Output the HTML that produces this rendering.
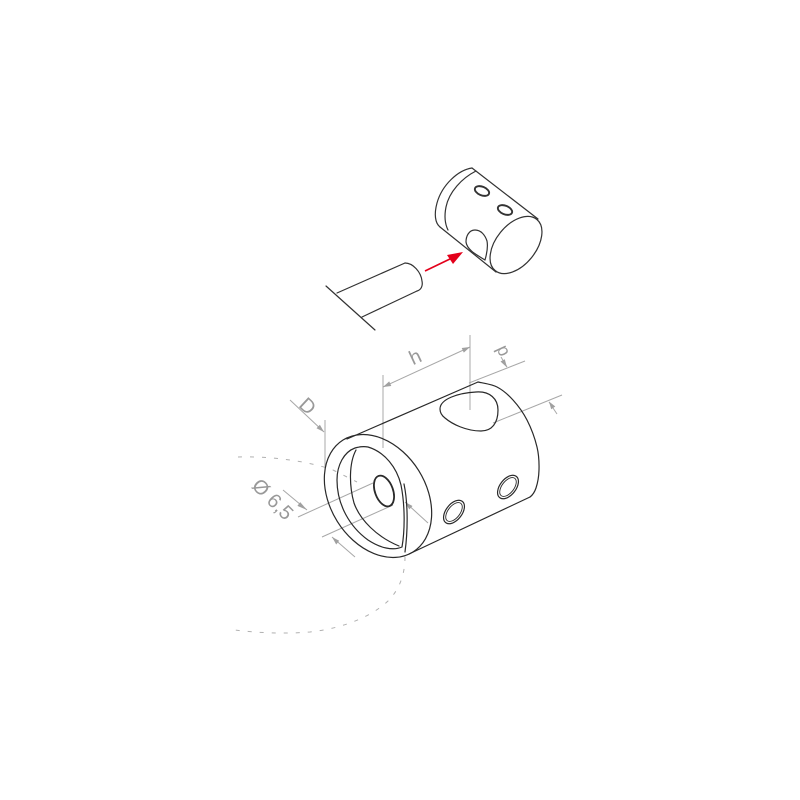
<!DOCTYPE html>
<html>
<head>
<meta charset="utf-8">
<style>
html,body{margin:0;padding:0;background:#fff;}
svg{display:block;}
</style>
</head>
<body>
<svg width="800" height="800" viewBox="0 0 800 800" xmlns="http://www.w3.org/2000/svg">
<rect width="800" height="800" fill="#fff"/>

<!-- ===== Top exploded view ===== -->
<g fill="none" stroke="#333" stroke-width="1.2" stroke-linecap="round" stroke-linejoin="round">
  <!-- wall line -->
  <line x1="326" y1="286" x2="375" y2="330"/>
  <!-- rod -->
  <line x1="337" y1="293" x2="405" y2="263"/>
  <line x1="362" y1="317" x2="417" y2="291"/>
  <path d="M405,263 C413,263 421,272 422,281 C423,286 421,290 417,291"/>

  <!-- small part -->
  <path d="M472,168 C458,170 442,185 437,203 C434,214 435,223 440,227"/>
  <path d="M476,171 C462,178 449,192 446,207 C444,217 445,224 448,230"/>
  <line x1="472" y1="168" x2="538" y2="219"/>
  <line x1="440" y1="227" x2="496" y2="272"/>
  <ellipse cx="0" cy="0" rx="33" ry="20" transform="translate(516,245) rotate(-51)"/>
  <ellipse cx="0" cy="0" rx="7.5" ry="4.3" transform="translate(482,191) rotate(22)" stroke-width="1.9"/>
  <ellipse cx="0" cy="0" rx="7.5" ry="4.3" transform="translate(505,210) rotate(22)" stroke-width="1.9"/>
  <path d="M475,230 C469,230 466,236 466,242 C467,250 477,255 485,260 C487,253 488,246 487,241 C485,235 481,230 475,230 Z"/>
</g>

<!-- red arrow -->
<line x1="425" y1="271" x2="452" y2="258" stroke="#e3001b" stroke-width="1.6"/>
<polygon points="463,252 447,255 453,264" fill="#e3001b"/>

<!-- ===== Main view: dimension lines (gray) ===== -->
<g fill="none" stroke="#a8a8a8" stroke-width="1">
  <!-- h -->
  <line x1="383" y1="375" x2="383" y2="448"/>
  <line x1="470" y1="335" x2="470" y2="410"/>
  <line x1="383" y1="387" x2="470" y2="347"/>
  <!-- d -->
  <line x1="469" y1="383" x2="525" y2="361"/>
  <line x1="493" y1="423" x2="562" y2="395"/>
  <line x1="501" y1="357" x2="507" y2="367"/>
  <line x1="557" y1="414" x2="549" y2="402"/>
  <!-- D -->
  <line x1="325" y1="420" x2="325" y2="468"/>
  <line x1="290" y1="400" x2="324" y2="432"/>
  <!-- diameter -->
  <line x1="298" y1="517" x2="373" y2="483"/>
  <line x1="322" y1="537" x2="393" y2="505"/>
  <line x1="283" y1="490" x2="307" y2="510"/>
  <line x1="355" y1="557" x2="332" y2="537"/>
  <!-- right small -->
  <line x1="428" y1="523" x2="405" y2="502"/>
</g>
<g fill="#a0a0a0">
  <polygon points="470,347 461.7,348.0 463.8,352.6"/>
  <polygon points="383,387 391.3,386.0 389.2,381.4"/>
  <polygon points="507,367.5 500.5,361.5 504.8,359.2"/>
  <polygon points="549,401.5 551.2,409.3 555.3,406.5"/>
  <polygon points="324,432 319.9,424.7 316.5,428.3"/>
  <polygon points="307,510 300.2,502.1 297.4,505.9"/>
  <polygon points="332,537 336.2,544.5 339.2,540.7"/>
  <polygon points="405,502 409.3,509.4 412.5,506"/>
</g>

<!-- dotted arcs -->
<g fill="none" stroke="#b0b0b0" stroke-width="1" stroke-dasharray="4 8">
  <path d="M238,457 C270,456 308,461 333,470 L357,482"/>
  <path d="M405,557 C405,575 399,590 388,601 C372,616 345,628 310,632 C285,634 258,633 235,630"/>
</g>

<!-- labels -->
<g fill="#999" font-family="'Liberation Sans', sans-serif">
  <text x="0" y="0" font-size="20" text-anchor="middle" transform="translate(418,363) rotate(-25)">h</text>
  <text x="0" y="0" font-size="18" text-anchor="middle" transform="translate(507,349) rotate(-115)">d</text>
  <text x="0" y="0" font-size="20" text-anchor="middle" transform="translate(303,411) rotate(43)">D</text>
  <text x="0" y="0" font-size="20" text-anchor="middle" transform="translate(268,504) rotate(45)">Ø 6,5</text>
</g>

<!-- ===== Main body outlines ===== -->
<g fill="none" stroke="#2a2a2a" stroke-width="1.2" stroke-linecap="round" stroke-linejoin="round">
  <line x1="347" y1="439" x2="478" y2="382"/>
  <line x1="409" y1="554" x2="530" y2="497"/>
  <path d="M478,382 C481.2,382.8 491.2,384 497,387 C502.8,390 508,394.5 513,400 C518,405.5 523,412.2 527,420 C531,427.8 535,438.7 537,447 C539,455.3 539.2,463.2 539,470 C538.8,476.8 537.5,483.5 536,488 C534.5,492.5 532,495.5 530,497"/>
  <!-- front face outer -->
  <ellipse cx="0" cy="0" rx="48" ry="66" transform="translate(378,496) rotate(-32)"/>
  <!-- inner ring -->
  <path d="M355,448 C344,452 337,465 337,480 C337,505 350,527 368,540 C380,548 393,551 402,547 C405,530 405,505 401,485 C397,468 385,452 368,447 C363,446 359,447 355,448 Z"/>
  <path d="M404,484 C408,503 408,530 405,552"/>
  <!-- bore depth -->
  <path d="M356,450 C349,463 349,485 354,503 C360,520 377,537 399,546"/>
  <!-- small hole -->
  <ellipse cx="0" cy="0" rx="9" ry="16" transform="translate(384,491) rotate(-20)" stroke-width="1.8"/>
  <!-- teardrop hole on top -->
  <path d="M440,409 C440,399 458,393 476,392 C490,391 498,399 498,410 C498,423 492,431 481,431 C466,431 452,424 445,418 C441,415 440,412 440,409 Z"/>
  <!-- side holes -->
  <ellipse cx="0" cy="0" rx="13.5" ry="8" transform="translate(454,512) rotate(-52)"/>
  <ellipse cx="0" cy="0" rx="11" ry="6" transform="translate(454,512) rotate(-52)" stroke-width="0.9"/>
  <ellipse cx="0" cy="0" rx="13.5" ry="8" transform="translate(508,487) rotate(-52)"/>
  <ellipse cx="0" cy="0" rx="11" ry="6" transform="translate(508,487) rotate(-52)" stroke-width="0.9"/>
</g>
</svg>
</body>
</html>
